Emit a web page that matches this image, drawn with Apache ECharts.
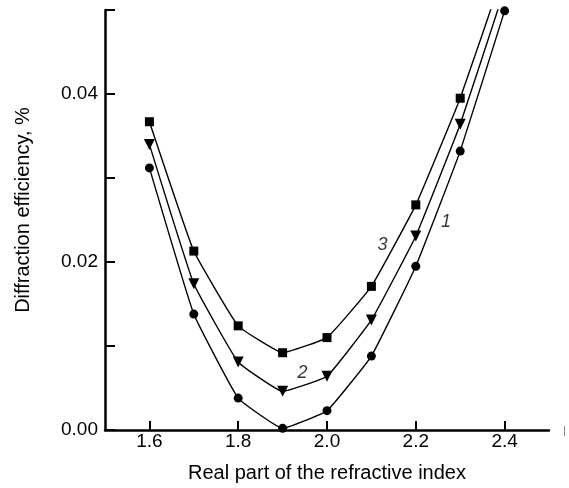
<!DOCTYPE html>
<html>
<head>
<meta charset="utf-8">
<script src="https://cdn.jsdelivr.net/npm/echarts@6/dist/echarts.min.js"></script>
<style>
  html, body { margin: 0; padding: 0; background: #fff; }
  #chart { width: 569px; height: 488px; }
</style>
</head>
<body>
<div id="chart"></div>
<script>
// refractive index (x)
const xValues = [1.6, 1.7, 1.8, 1.9, 2.0, 2.1, 2.2, 2.3, 2.4]
// curve 1 (circles)
const curve1 = [0.0312, 0.0138, 0.0038, 0.0002, 0.0023, 0.0088, 0.0195, 0.0332, 0.0499]
// curve 2 (triangles), last point runs off the top
const curve2 = [0.0340, 0.0174, 0.0081, 0.0046, 0.0064, 0.0131, 0.0231, 0.0364, 0.0525]
// curve 3 (squares), last point runs off the top
const curve3 = [0.0367, 0.0213, 0.0124, 0.0092, 0.0110, 0.0171, 0.0268, 0.0395, 0.0549]
const xTickLabels = [1.6, 1.8, 2.0, 2.2, 2.4]
const yTickLabels = [0, 0.02, 0.04]
const curveLabels = [
  { text: '1', x: 2.268, y: 0.0248 },
  { text: '2', x: 1.945, y: 0.0068 },
  { text: '3', x: 2.125, y: 0.0220 }
]

const font = 'Liberation Sans, Arial, sans-serif'
const pairs = arr => xValues.map((x, i) => [x, arr[i]])
// markers at 2.4 only where the point is inside the plot
const withMarks = (arr, lastVisible) => pairs(arr).map((p, i) =>
  (i === arr.length - 1 && !lastVisible) ? { value: p, symbol: 'none' } : p)

const chart = echarts.init(document.getElementById('chart'))

function lineSeries(name, arr, symbol, size, rotate, lastVisible) {
  return {
    name: name,
    type: 'line',
    data: withMarks(arr, lastVisible),
    smooth: 0.1,
    symbol: symbol,
    symbolSize: size,
    symbolRotate: rotate,
    showAllSymbol: true,
    clip: true,
    lineStyle: { color: '#000', width: 1.4 },
    itemStyle: { color: '#000' },
    z: 3
  }
}

chart.setOption({
  animation: false,
  backgroundColor: '#fff',
  grid: { left: 105, right: 20, top: 10, bottom: 58 },
  xAxis: {
    type: 'value',
    min: 1.5,
    max: 2.5,
    name: 'Real part of the refractive index',
    nameLocation: 'middle',
    nameGap: 33,
    nameTextStyle: { fontFamily: font, fontSize: 20, color: '#000' },
    axisLine: { lineStyle: { color: '#000', width: 2.5 } },
    axisTick: { inside: true, length: 9, customValues: xTickLabels, lineStyle: { color: '#000', width: 2 } },
    axisLabel: {
      customValues: xTickLabels,
      formatter: v => v.toFixed(1),
      fontFamily: font, fontSize: 19, color: '#000', margin: 2
    },
    splitLine: { show: false }
  },
  yAxis: {
    type: 'value',
    min: 0,
    max: 0.05,
    interval: 0.01,
    name: 'Diffraction efficiency, %',
    nameLocation: 'middle',
    nameGap: 72,
    nameTextStyle: { fontFamily: font, fontSize: 20, color: '#000', padding: [0, 0, 0, 20] },
    axisLine: { show: true, lineStyle: { color: '#000', width: 2.5 } },
    axisTick: { show: true, inside: true, length: 10, lineStyle: { color: '#000', width: 2 } },
    axisLabel: {
      customValues: yTickLabels,
      formatter: v => v.toFixed(2),
      fontFamily: font, fontSize: 19, color: '#000', margin: 7
    },
    splitLine: { show: false }
  },
  series: [
    lineSeries('1', curve1, 'circle', 9, 0, true),
    lineSeries('2', curve2, 'triangle', 11, 180, false),
    lineSeries('3', curve3, 'rect', 9, 0, false),
    {
      type: 'scatter',
      data: curveLabels.map(d => [d.x, d.y, d.text]),
      symbolSize: 0,
      label: {
        show: true,
        formatter: p => p.value[2],
        position: 'inside',
        fontFamily: font,
        fontSize: 18,
        fontStyle: 'italic',
        color: '#000'
      },
      z: 4
    }
  ],
  graphic: [
    { type: 'line', shape: { x1: 564.5, y1: 426, x2: 564.5, y2: 436 }, style: { stroke: '#888', lineWidth: 1 } }
  ]
})
</script>
</body>
</html>
